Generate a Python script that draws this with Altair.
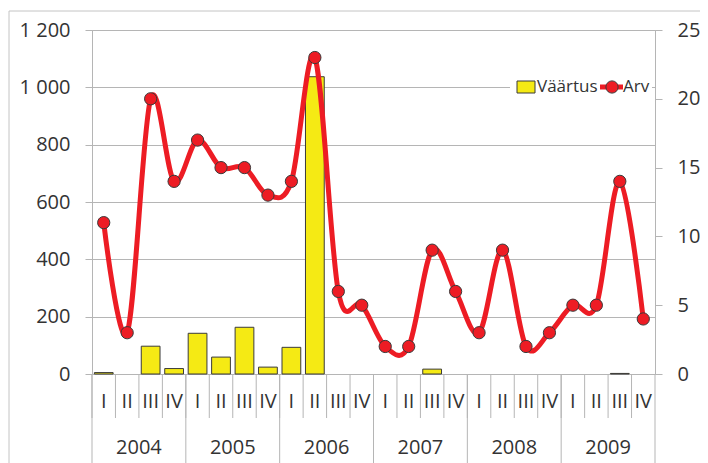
import altair as alt
import pandas as pd

years = ["2004", "2005", "2006", "2007", "2008", "2009"]
quarters = ["I", "II", "III", "IV"]
vaartus = [5, 0, 97, 19, 142, 59, 163, 24, 93, 1037, 0, 0,
           0, 0, 17, 0, 0, 0, 0, 0, 0, 0, 2, 0]
arv = [11, 3, 20, 14, 17, 15, 15, 13, 14, 23, 6, 5,
       2, 2, 9, 6, 3, 9, 2, 3, 5, 5, 14, 4]
left_ticks = [0, 200, 400, 600, 800, 1000, 1200]
right_ticks = [0, 5, 10, 15, 20, 25]
legend_labels = ["Väärtus", "Arv"]

RED = "#ed1c24"
YELLOW = "#f5ea14"
GRID = "#b5b5b5"
TXT = "#333333"
FONT = "Open Sans"

keys = [f"{y}-{q}" for y in years for q in quarters]
df = pd.DataFrame({
    "key": keys,
    "q": [q for y in years for q in quarters],
    "v": vaartus,
    "n": arv,
})
df_years = pd.DataFrame({
    "year": years,
    "first": [f"{y}-I" for y in years],
    "mid": [f"{y}-II" for y in years],
})
df_end = pd.DataFrame({"key": [keys[-1]]})
one = pd.DataFrame({"a": [0]})

xs = alt.Scale(domain=keys, paddingInner=0, paddingOuter=0)
W, H = 563, 344

bars = alt.Chart(df).transform_filter("datum.v > 0").mark_bar(
    width={"band": 0.8}, fill=YELLOW, stroke="#3a3a3a", strokeWidth=1
).encode(
    x=alt.X("key:O", scale=xs, axis=None),
    y=alt.Y("v:Q", scale=alt.Scale(domain=[0, 1200], nice=False),
            axis=alt.Axis(values=left_ticks, title=None, grid=True,
                          gridColor=GRID, domainColor=GRID, tickColor=GRID,
                          tickSize=7, labelPadding=15, labelFontSize=20,
                          labelFont=FONT, labelColor=TXT,
                          labelExpr="replace(format(datum.value, ','), ',', ' ')")),
)

right_axis = alt.Axis(orient="right", values=right_ticks, title=None, grid=False,
                      domainColor=GRID, tickColor=GRID, tickSize=7,
                      labelPadding=15, labelFontSize=20, labelFont=FONT,
                      labelColor=TXT)
line = alt.Chart(df).mark_line(interpolate="cardinal", color=RED, strokeWidth=5).encode(
    x=alt.X("key:O", scale=xs, axis=None),
    y=alt.Y("n:Q", scale=alt.Scale(domain=[0, 25], nice=False), axis=right_axis),
)
points = alt.Chart(df).mark_circle(size=150, color=RED, stroke="#3a3a3a",
                                   strokeWidth=1, opacity=1).encode(
    x=alt.X("key:O", scale=xs, axis=None),
    y=alt.Y("n:Q", scale=alt.Scale(domain=[0, 25], nice=False), axis=right_axis),
)
arv_layer = alt.layer(line, points)

q_sep = alt.Chart(df).mark_rule(color=GRID, strokeWidth=1).encode(
    x=alt.X("key:O", scale=xs, axis=None, bandPosition=0),
    y=alt.value(H), y2=alt.value(H + 44),
)
y_sep = alt.Chart(df_years).mark_rule(color=GRID, strokeWidth=1).encode(
    x=alt.X("first:O", scale=xs, axis=None, bandPosition=0),
    y=alt.value(H), y2=alt.value(H + 120),
)
end_sep = alt.Chart(df_end).mark_rule(color=GRID, strokeWidth=1).encode(
    x=alt.X("key:O", scale=xs, axis=None, bandPosition=1),
    y=alt.value(H), y2=alt.value(H + 120),
)
q_text = alt.Chart(df).mark_text(fontSize=20, font=FONT, color=TXT, baseline="middle").encode(
    x=alt.X("key:O", scale=xs, axis=None),
    y=alt.value(H + 28), text="q:N",
)
y_text = alt.Chart(df_years).mark_text(fontSize=20, font=FONT, color=TXT, baseline="middle").encode(
    x=alt.X("mid:O", scale=xs, axis=None, bandPosition=1),
    y=alt.value(H + 74), text="year:N",
)

# legend (inside plot, top right)
lg_bg = alt.Chart(one).mark_rect(fill="white").encode(
    x=alt.value(418), x2=alt.value(560), y=alt.value(46), y2=alt.value(68))
lg_sq = alt.Chart(one).mark_rect(fill=YELLOW, stroke="#3a3a3a", strokeWidth=1).encode(
    x=alt.value(425), x2=alt.value(443), y=alt.value(51), y2=alt.value(63))
lg_t1 = alt.Chart(one).mark_text(fontSize=17, font=FONT, color=TXT, align="left",
                                 baseline="middle").encode(
    x=alt.value(445), y=alt.value(57), text=alt.value(legend_labels[0]))
lg_ln = alt.Chart(one).mark_rule(color=RED, strokeWidth=5).encode(
    x=alt.value(508), x2=alt.value(531), y=alt.value(57))
lg_pt = alt.Chart(one).mark_circle(size=150, color=RED, stroke="#3a3a3a",
                                   strokeWidth=1, opacity=1).encode(
    x=alt.value(520), y=alt.value(57))
lg_t2 = alt.Chart(one).mark_text(fontSize=17, font=FONT, color=TXT, align="left",
                                 baseline="middle").encode(
    x=alt.value(531), y=alt.value(57), text=alt.value(legend_labels[1]))

# outer frame
fr_top = alt.Chart(one).mark_rule(color="#c4c4c4").encode(
    x=alt.value(-83), x2=alt.value(W + 60), y=alt.value(-19))
fr_left = alt.Chart(one).mark_rule(color="#c4c4c4").encode(
    x=alt.value(-83), y=alt.value(-19), y2=alt.value(H + 140))

chart = alt.layer(
    bars, arv_layer, q_sep, y_sep, end_sep, q_text, y_text,
    lg_bg, lg_sq, lg_t1, lg_ln, lg_pt, lg_t2, fr_top, fr_left
).resolve_scale(y="independent").properties(
    width=W, height=H,
    autosize=alt.AutoSizeParams(type="none"),
    padding={"left": 84, "top": 22, "right": 45, "bottom": 92},
).configure_view(stroke=GRID)

chart.save("out.html", embed_options={"renderer": "svg", "actions": False})
